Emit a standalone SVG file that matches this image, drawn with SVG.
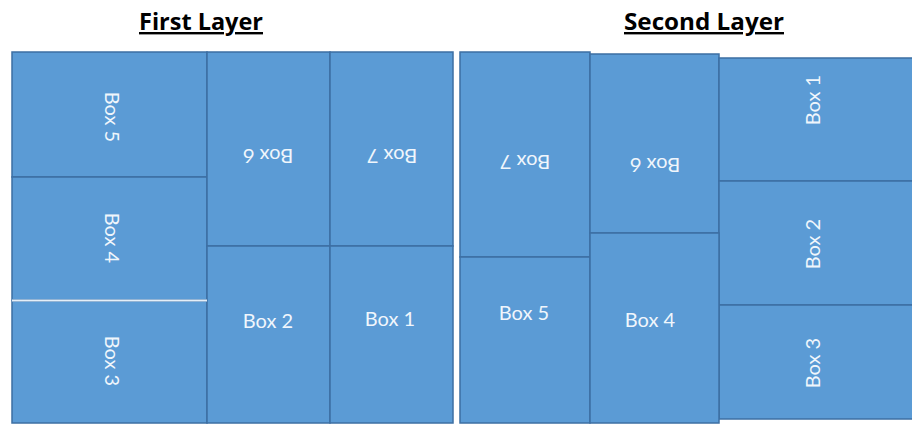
<svg xmlns="http://www.w3.org/2000/svg" width="912" height="424" viewBox="0 0 912 424">
<style>
.title{font-family:"Open Sans","Liberation Sans",sans-serif;font-weight:bold;font-size:24px;fill:#000;text-decoration:underline;text-anchor:middle}
.box{fill:#5b9bd5;stroke:#3d6fa3;stroke-width:1.5}
.lbl{font-family:Lato,"Open Sans","Liberation Sans",sans-serif;font-size:20px;fill:#f0f6fc;text-anchor:middle;dominant-baseline:central}
</style>
<rect width="912" height="424" fill="#fff"/>
<text class="title" x="201" y="30" textLength="124" lengthAdjust="spacingAndGlyphs">First Layer</text>
<text class="title" x="704" y="30" textLength="160" lengthAdjust="spacingAndGlyphs">Second Layer</text>

<g id="first-layer">
<g id="L1-box5"><rect class="box" x="12" y="52" width="195" height="125"/><text class="lbl" transform="translate(113,117) rotate(90)">Box 5</text></g>
<g id="L1-box4"><rect class="box" x="12" y="177" width="195" height="123"/><text class="lbl" transform="translate(113,238) rotate(90)">Box 4</text></g>
<g id="L1-box3"><rect class="box" x="12" y="301" width="195" height="122"/><text class="lbl" transform="translate(113,361) rotate(90)">Box 3</text></g>
<g id="L1-box6"><rect class="box" x="207" y="52" width="123" height="194"/><text class="lbl" transform="translate(268,157) rotate(180)">Box 6</text></g>
<g id="L1-box7"><rect class="box" x="330" y="52" width="123" height="194"/><text class="lbl" transform="translate(392,157) rotate(180)">Box 7</text></g>
<g id="L1-box2"><rect class="box" x="207" y="246" width="123" height="177"/><text class="lbl" x="268" y="320">Box 2</text></g>
<g id="L1-box1"><rect class="box" x="330" y="246" width="123" height="177"/><text class="lbl" x="390" y="318">Box 1</text></g>
<line x1="12" y1="300.5" x2="207" y2="300.5" stroke="#e4eef8" stroke-width="2"/>
</g>

<g id="second-layer">
<g id="L2-box7"><rect class="box" x="460" y="52" width="130" height="205"/><text class="lbl" transform="translate(525,163) rotate(180)">Box 7</text></g>
<g id="L2-box6"><rect class="box" x="590" y="54" width="129" height="179"/><text class="lbl" transform="translate(655,166) rotate(180)">Box 6</text></g>
<g id="L2-box1"><rect class="box" x="719" y="58" width="200" height="123"/><text class="lbl" transform="translate(812,100) rotate(-90)">Box 1</text></g>
<g id="L2-box2"><rect class="box" x="719" y="181" width="200" height="124"/><text class="lbl" transform="translate(812,244) rotate(-90)">Box 2</text></g>
<g id="L2-box3"><rect class="box" x="719" y="305" width="200" height="114"/><text class="lbl" transform="translate(812,363) rotate(-90)">Box 3</text></g>
<g id="L2-box5"><rect class="box" x="460" y="257" width="130" height="166"/><text class="lbl" x="524" y="312">Box 5</text></g>
<g id="L2-box4"><rect class="box" x="590" y="233" width="129" height="190"/><text class="lbl" x="650" y="319">Box 4</text></g>
</g>
</svg>
